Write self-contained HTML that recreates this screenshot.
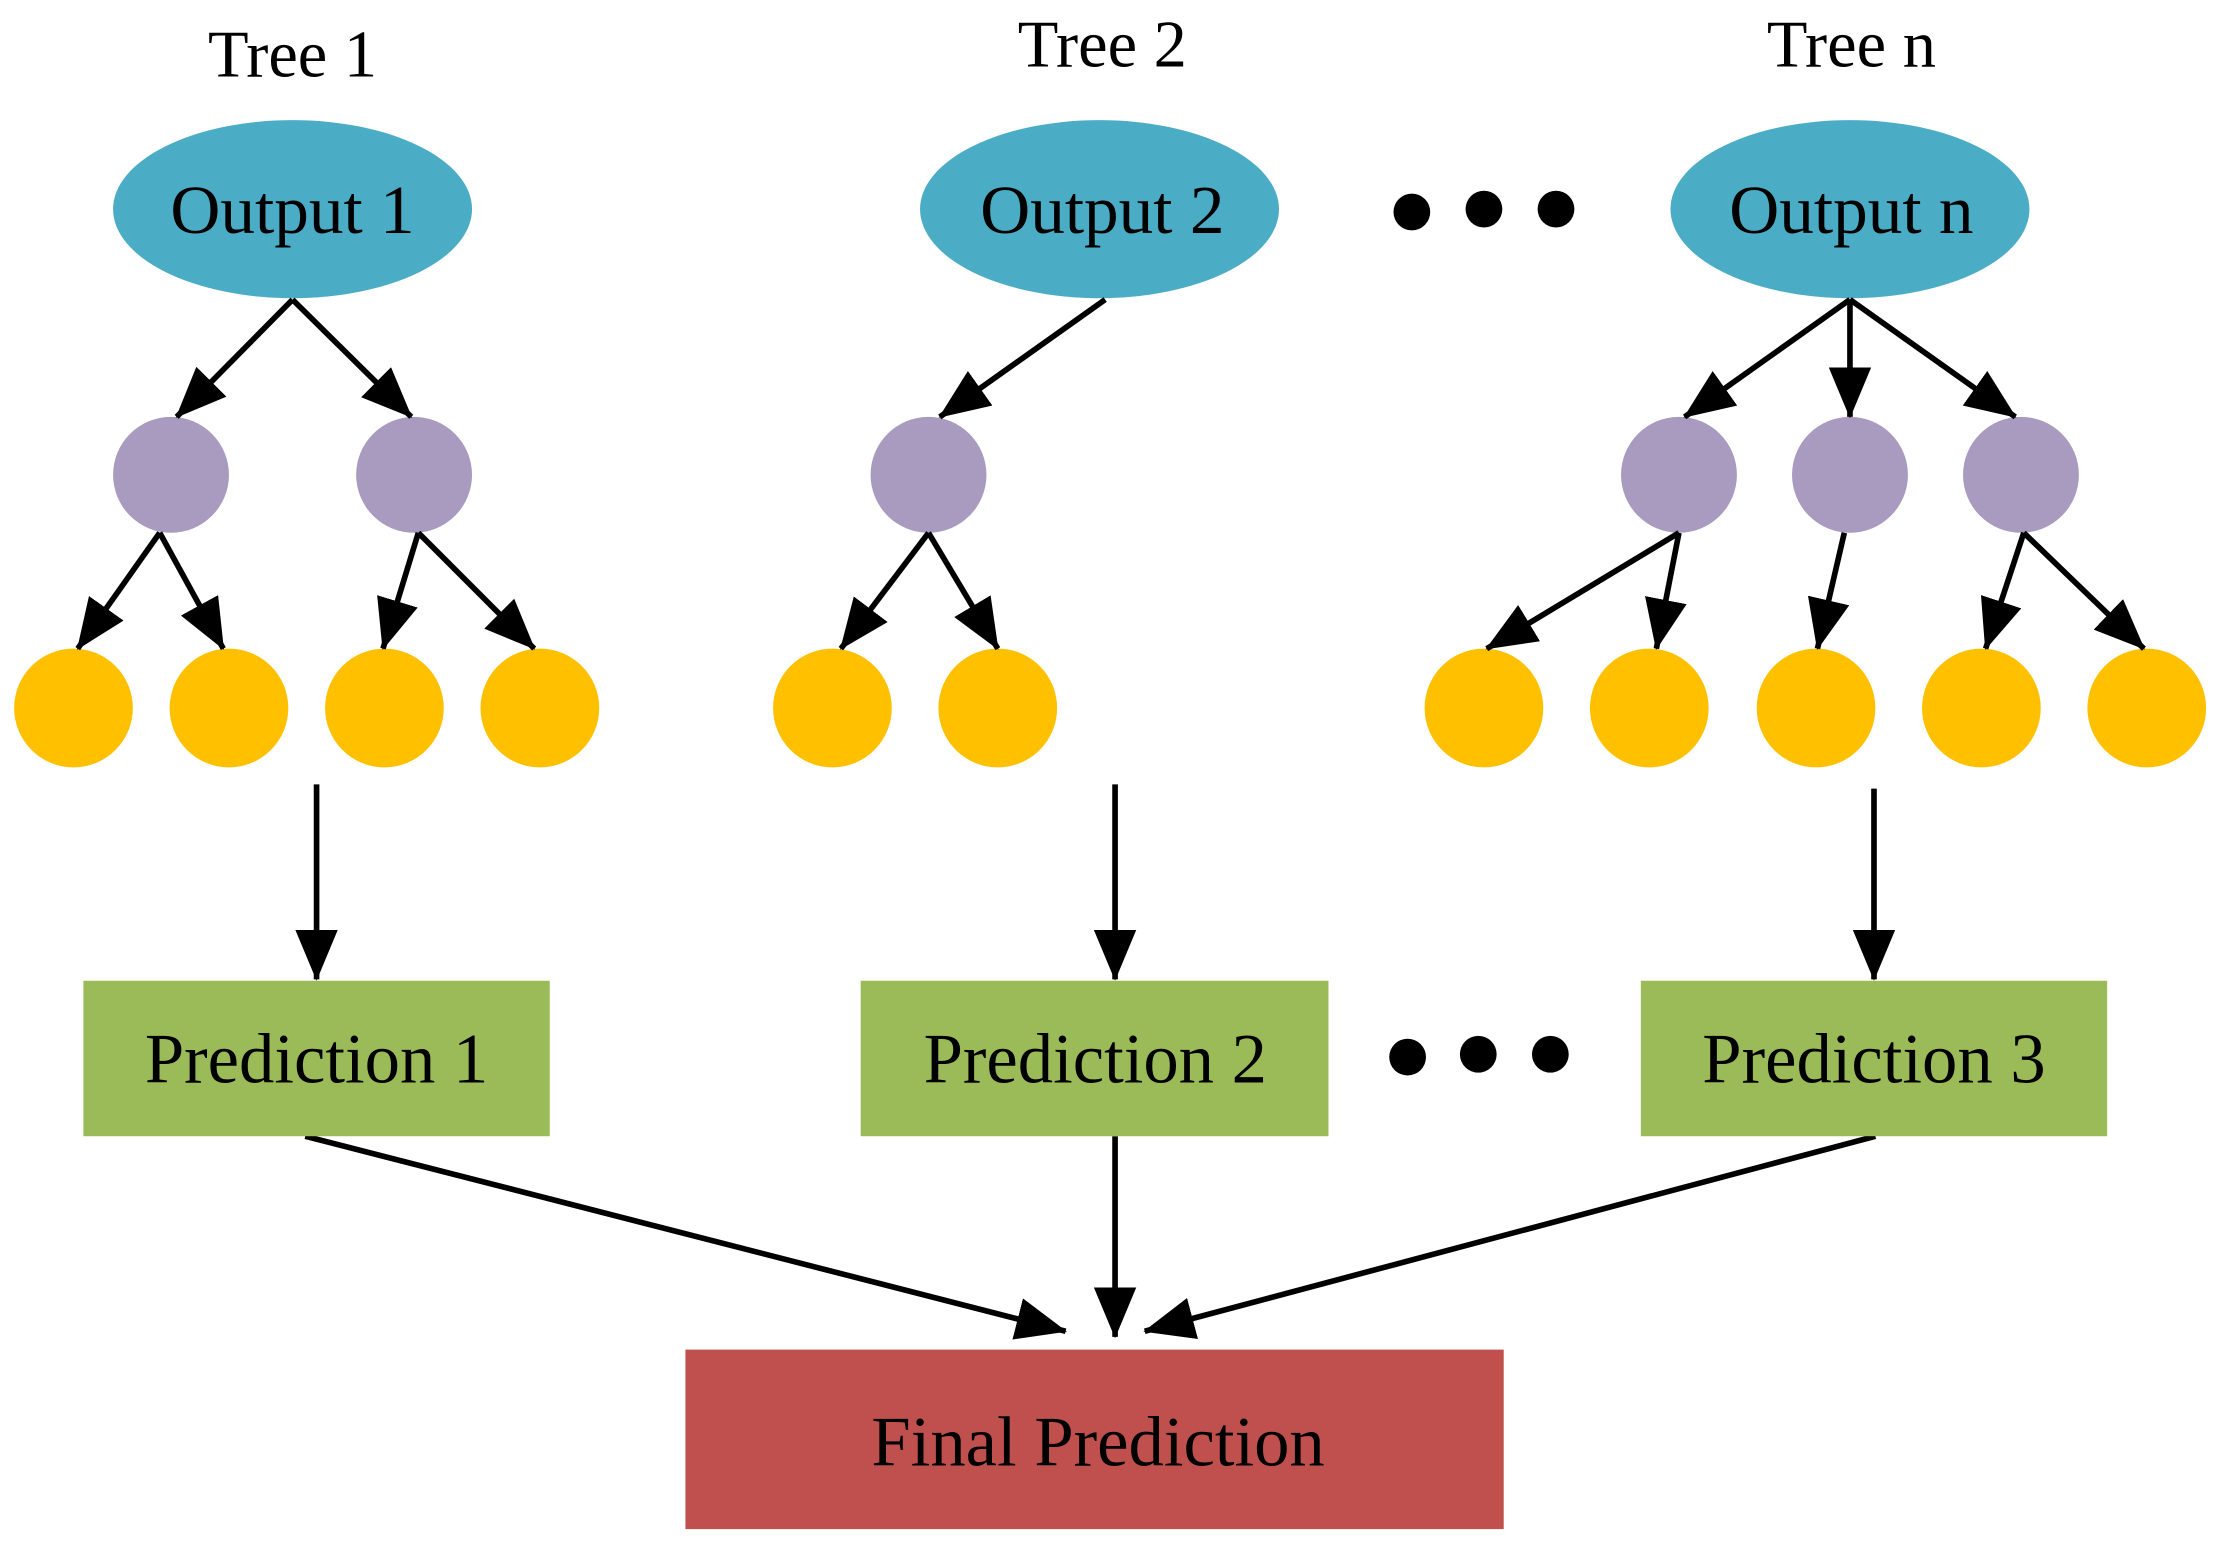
<!DOCTYPE html>
<html><head><meta charset="utf-8"><style>
html,body{margin:0;padding:0;background:#fff;}
svg{display:block;}
text{font-family:"Liberation Serif",serif;fill:#000;text-anchor:middle;}
</style></head><body>
<svg width="2216" height="1551" viewBox="0 0 1568 1097.5" preserveAspectRatio="none" xmlns="http://www.w3.org/2000/svg">
<defs>
<marker id="a" markerUnits="userSpaceOnUse" viewBox="0 0 36 30" markerWidth="36" markerHeight="30" refX="35" refY="15" orient="auto">
<path d="M0,0 L36,15 L0,30 Z" fill="#000"/>
</marker>
</defs>
<text x="207" y="54" font-size="47">Tree 1</text>
<text x="780" y="47" font-size="47">Tree 2</text>
<text x="1310" y="47" font-size="47">Tree n</text>
<g fill="#4BACC6">
<ellipse cx="207" cy="148" rx="127" ry="63"/>
<ellipse cx="778" cy="148" rx="127" ry="63"/>
<ellipse cx="1309" cy="148" rx="127" ry="63"/>
</g>
<text x="207" y="165" font-size="49">Output 1</text>
<text x="780" y="165" font-size="49">Output 2</text>
<text x="1310" y="165" font-size="49">Output n</text>
<g fill="#000">
<circle cx="999" cy="150" r="13"/><circle cx="1050" cy="148" r="13"/><circle cx="1101" cy="148" r="13"/>
<circle cx="996" cy="748" r="13"/><circle cx="1046" cy="746" r="13"/><circle cx="1097" cy="746" r="13"/>
</g>
<g fill="#A99BC0">
<circle cx="121" cy="336" r="41"/><circle cx="293" cy="336" r="41"/><circle cx="657" cy="336" r="41"/>
<circle cx="1188" cy="336" r="41"/><circle cx="1309" cy="336" r="41"/><circle cx="1430" cy="336" r="41"/>
</g>
<g fill="#FFC000">
<circle cx="52" cy="501" r="42"/><circle cx="162" cy="501" r="42"/><circle cx="272" cy="501" r="42"/><circle cx="382" cy="501" r="42"/>
<circle cx="589" cy="501" r="42"/><circle cx="706" cy="501" r="42"/>
<circle cx="1050" cy="501" r="42"/><circle cx="1167" cy="501" r="42"/><circle cx="1285" cy="501" r="42"/><circle cx="1402" cy="501" r="42"/><circle cx="1519" cy="501" r="42"/>
</g>
<g stroke="#000" stroke-width="4" marker-end="url(#a)">
<line x1="207" y1="212" x2="125" y2="295"/><line x1="207" y1="212" x2="291" y2="295"/>
<line x1="782" y1="212" x2="665" y2="295"/>
<line x1="1309" y1="212" x2="1192" y2="295"/><line x1="1309" y1="212" x2="1309" y2="295"/><line x1="1309" y1="212" x2="1426" y2="295"/>
<line x1="113" y1="377" x2="55" y2="459"/><line x1="113" y1="377" x2="158" y2="459"/>
<line x1="296" y1="377" x2="271" y2="459"/><line x1="296" y1="377" x2="378" y2="459"/>
<line x1="657" y1="377" x2="595" y2="459"/><line x1="657" y1="377" x2="706" y2="459"/>
<line x1="1188" y1="377" x2="1052" y2="459"/><line x1="1188" y1="377" x2="1172" y2="459"/>
<line x1="1305" y1="377" x2="1286" y2="459"/>
<line x1="1432" y1="377" x2="1405" y2="459"/><line x1="1432" y1="377" x2="1517" y2="459"/>
<line x1="224" y1="555" x2="224" y2="693"/><line x1="789" y1="555" x2="789" y2="693"/><line x1="1326" y1="558" x2="1326" y2="693"/>
<line x1="216" y1="804" x2="754" y2="942"/><line x1="789" y1="804" x2="789" y2="946"/><line x1="1327" y1="804" x2="810" y2="942"/>
</g>
<g fill="#9BBB59">
<rect x="59" y="694" width="330" height="110"/>
<rect x="609" y="694" width="331" height="110"/>
<rect x="1161" y="694" width="330" height="110"/>
</g>
<text x="224" y="766" font-size="50">Prediction 1</text>
<text x="775" y="766" font-size="50">Prediction 2</text>
<text x="1326" y="766" font-size="50">Prediction 3</text>
<rect x="485" y="955" width="579" height="127" fill="#C0504D"/>
<text x="777" y="1037" font-size="50">Final Prediction</text>
</svg>
</body></html>
